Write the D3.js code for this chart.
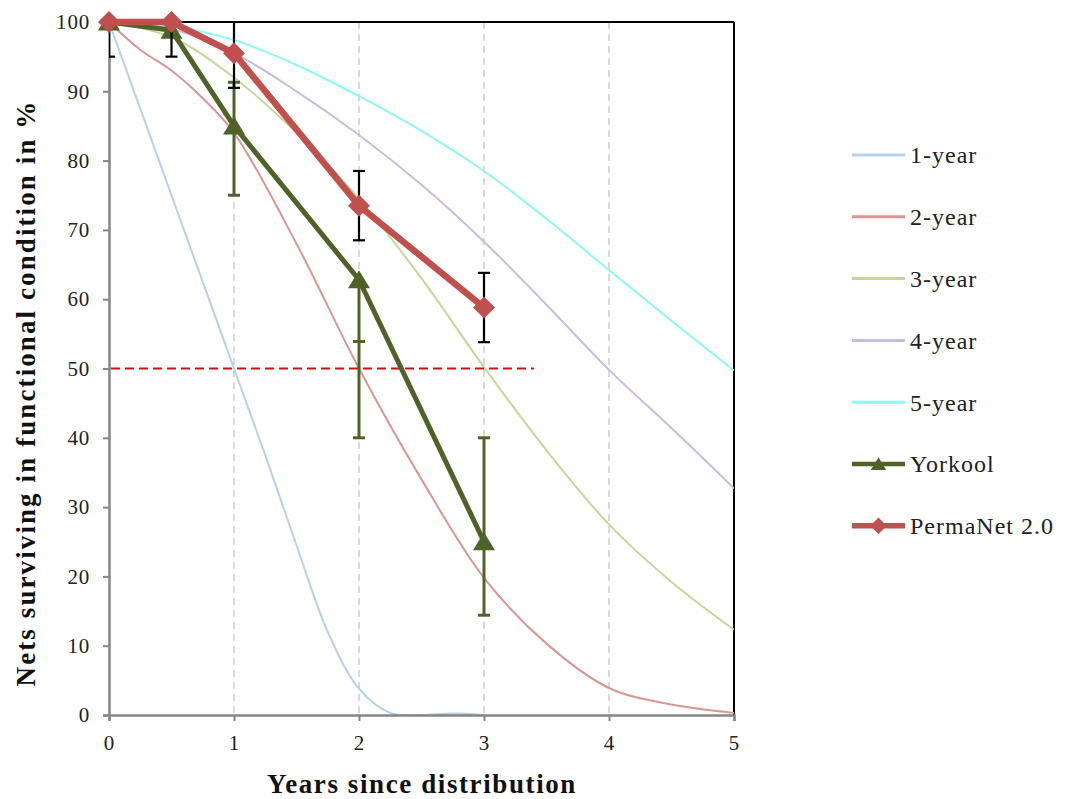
<!DOCTYPE html>
<html><head><meta charset="utf-8">
<script src="https://cdn.jsdelivr.net/npm/d3@7"></script>
<style>body{margin:0;background:#fff} svg{display:block}</style>
</head><body>
<script>
// ---------- data ----------
const xTicks = [0, 1, 2, 3, 4, 5];
const yTicks = [0, 10, 20, 30, 40, 50, 60, 70, 80, 90, 100];
const gridYears = [1, 2, 3, 4];

const t1 = [0, 0.25, 0.5, 0.75, 1, 1.25, 1.5, 1.75, 2, 2.25, 2.5, 2.75, 3];
const v1 = [100, 87.5, 75, 62.5, 50, 37.5, 24.5, 12, 3.8, 0.3, 0, 0.2, 0];
const tH = [0, 0.25, 0.5, 0.75, 1, 1.5, 2, 2.5, 3, 3.5, 4, 4.5, 5];
const v2 = [100, 96, 93, 89, 84, 68, 50, 34, 19.8, 10.3, 3.9, 1.5, 0.3];
const tS = [0, 0.5, 1, 1.5, 2, 2.5, 3, 3.5, 4, 4.5, 5];
const v3 = [100, 97.8, 92, 84, 74.5, 63, 50.2, 38.2, 27.5, 19.2, 12.3];
const v4 = [100, 99, 95.5, 90, 83.7, 76.5, 68.3, 59.2, 49.8, 41.4, 32.7];
const v5 = [100, 99.4, 97.4, 93.8, 89.3, 84.3, 78.5, 71.6, 64.2, 56.9, 49.7];

const obsYears = [0, 0.5, 1, 2, 3];
const yorkool = [100, 98.8, 85, 62.8, 25];
const yorkoolLow = [null, null, 75, 40, 14.4];
const yorkoolHigh = [null, null, 91.3, 53.9, 40];
const permanet = [100, 100, 95.5, 73.5, 58.8];
const permanetLow = [95, 95, 90.5, 68.5, 53.8];
const permanetHigh = [105, 105, 100.5, 78.5, 63.8];

const halfLine = [0, 3.4];
const halfValue = 50;

const curveNames = ["1-year", "2-year", "3-year", "4-year", "5-year"];
const curveColors = ["#b8d0ee", "#da9694", "#c4d79b", "#c9bddb", "#8cf7f7"];
const curveXs = [t1, tH, tS, tS, tS];
const curveYs = [v1, v2, v3, v4, v5];

// ---------- layout ----------
const W = 1067, H = 799;
const m = {left: 109, top: 22, right: 734, bottom: 715};
const serif = "'Liberation Serif', 'DejaVu Serif', serif";

const svg = d3.select("body").append("svg").attr("width", W).attr("height", H);

const x = d3.scaleLinear().domain([0, 5]).range([m.left, m.right]);
const y = d3.scaleLinear().domain([0, 100]).range([m.bottom, m.top]);

svg.append("defs").append("clipPath").attr("id", "plot")
  .append("rect").attr("x", m.left).attr("y", m.top)
  .attr("width", m.right - m.left).attr("height", m.bottom - m.top);

// gridlines
svg.append("g").selectAll("line").data(gridYears).join("line")
  .attr("x1", d => x(d)).attr("x2", d => x(d))
  .attr("y1", m.top).attr("y2", m.bottom)
  .attr("stroke", "#d9d9d9").attr("stroke-width", 2).attr("stroke-dasharray", "7,5");

// frame top/right
svg.append("line").attr("x1", m.left).attr("x2", m.right).attr("y1", m.top).attr("y2", m.top)
  .attr("stroke", "#000").attr("stroke-width", 2);
svg.append("line").attr("x1", m.right).attr("x2", m.right).attr("y1", m.top).attr("y2", m.bottom)
  .attr("stroke", "#000").attr("stroke-width", 2);

// survival curves
const line = d3.line().curve(d3.curveCatmullRom.alpha(0.5)).x(d => x(d[0])).y(d => y(d[1]));
const cg = svg.append("g").attr("clip-path", "url(#plot)");
curveNames.forEach((n, i) => {
  const pts = curveXs[i].map((t, j) => [t, curveYs[i][j]]);
  cg.append("path").attr("d", line(pts)).attr("fill", "none")
    .attr("stroke", curveColors[i]).attr("stroke-width", 2);
});

// axes
const yAxis = d3.axisLeft(y).tickValues(yTicks).tickSize(6).tickPadding(13).tickFormat(d3.format("d"));
const xAxis = d3.axisBottom(x).tickValues(xTicks).tickSize(6).tickPadding(14).tickFormat(d3.format("d"));
const ya = svg.append("g").attr("transform", `translate(${m.left},0)`).call(yAxis);
const xa = svg.append("g").attr("transform", `translate(0,${m.bottom})`).call(xAxis);
[ya, xa].forEach(a => {
  a.select(".domain").attr("stroke", "#868686").attr("stroke-width", 2.5);
  a.selectAll(".tick line").attr("stroke", "#868686").attr("stroke-width", 2);
  a.selectAll(".tick text").attr("font-family", serif).attr("font-size", 21)
    .attr("letter-spacing", 0.8).attr("fill", "#222");
});

// 50% dashed line
svg.append("line").attr("x1", x(halfLine[0]) + 2).attr("x2", x(halfLine[1]))
  .attr("y1", y(halfValue)).attr("y2", y(halfValue))
  .attr("stroke", "#d01010").attr("stroke-width", 2.2).attr("stroke-dasharray", "9,5");

// error bars
function errorBars(vals, lows, highs, color, sw) {
  const g = svg.append("g").attr("clip-path", "url(#plot)");
  obsYears.forEach((t, i) => {
    if (lows[i] == null) return;
    const lo = Math.min(lows[i], vals[i]), hi = Math.max(highs[i], vals[i]);
    g.append("line").attr("x1", x(t)).attr("x2", x(t)).attr("y1", y(lo)).attr("y2", y(hi))
      .attr("stroke", color).attr("stroke-width", sw);
    [lows[i], highs[i]].forEach(v => {
      g.append("line").attr("x1", x(t) - 6).attr("x2", x(t) + 6).attr("y1", y(v)).attr("y2", y(v))
        .attr("stroke", color).attr("stroke-width", sw);
    });
  });
}
errorBars(yorkool, yorkoolLow, yorkoolHigh, "#4f6228", 3);

const straight = d3.line().x(d => x(d[0])).y(d => y(d[1]));
const triPath = s => `M0,${-9.5*s}L${11*s},${8.5*s}L${-11*s},${8.5*s}Z`;
const diaPath = s => `M0,${-11*s}L${11*s},0L0,${11*s}L${-11*s},0Z`;

// Yorkool
svg.append("path").attr("d", straight(obsYears.map((t, i) => [t, yorkool[i]])))
  .attr("fill", "none").attr("stroke", "#4f6228").attr("stroke-width", 5).attr("stroke-linejoin", "round");
svg.append("g").selectAll("path").data(obsYears).join("path")
  .attr("transform", (d, i) => `translate(${x(d)},${y(yorkool[i])})`)
  .attr("d", triPath(1)).attr("fill", "#4f6228");

// PermaNet
errorBars(permanet, permanetLow, permanetHigh, "#000", 2.2);
svg.append("path").attr("d", straight(obsYears.map((t, i) => [t, permanet[i]])))
  .attr("fill", "none").attr("stroke", "#c0504d").attr("stroke-width", 6.5).attr("stroke-linejoin", "round");
svg.append("g").selectAll("path").data(obsYears).join("path")
  .attr("transform", (d, i) => `translate(${x(d)},${y(permanet[i])})`)
  .attr("d", diaPath(1)).attr("fill", "#c0504d");

// axis titles
svg.append("text").attr("x", 422).attr("y", 793)
  .attr("text-anchor", "middle").attr("font-family", serif).attr("font-weight", "bold")
  .attr("font-size", 27).attr("letter-spacing", 1.6).attr("fill", "#111").text("Years since distribution");
svg.append("text").attr("transform", `translate(35,393) rotate(-90)`)
  .attr("text-anchor", "middle").attr("font-family", serif).attr("font-weight", "bold")
  .attr("font-size", 27).attr("letter-spacing", 2.1).attr("fill", "#111").text("Nets surviving in functional condition in %");

// legend
const legNames = curveNames.concat(["Yorkool", "PermaNet 2.0"]);
const legColors = curveColors.concat(["#4f6228", "#c0504d"]);
const lg = svg.append("g");
legNames.forEach((n, i) => {
  const yy = 155 + i * 61.8;
  lg.append("line").attr("x1", 852).attr("x2", 905).attr("y1", yy).attr("y2", yy)
    .attr("stroke", legColors[i]).attr("stroke-width", i < 5 ? 3 : (i === 5 ? 4.5 : 5.5));
  if (i === 5) lg.append("path").attr("transform", `translate(878.5,${yy})`).attr("d", triPath(0.7)).attr("fill", legColors[i]);
  if (i === 6) lg.append("path").attr("transform", `translate(878.5,${yy})`).attr("d", diaPath(0.75)).attr("fill", legColors[i]);
  lg.append("text").attr("x", 910).attr("y", yy).attr("dy", "0.35em")
    .attr("font-family", serif).attr("font-size", 24).attr("letter-spacing", 1).attr("fill", "#222").text(n);
});
</script>
</body></html>
